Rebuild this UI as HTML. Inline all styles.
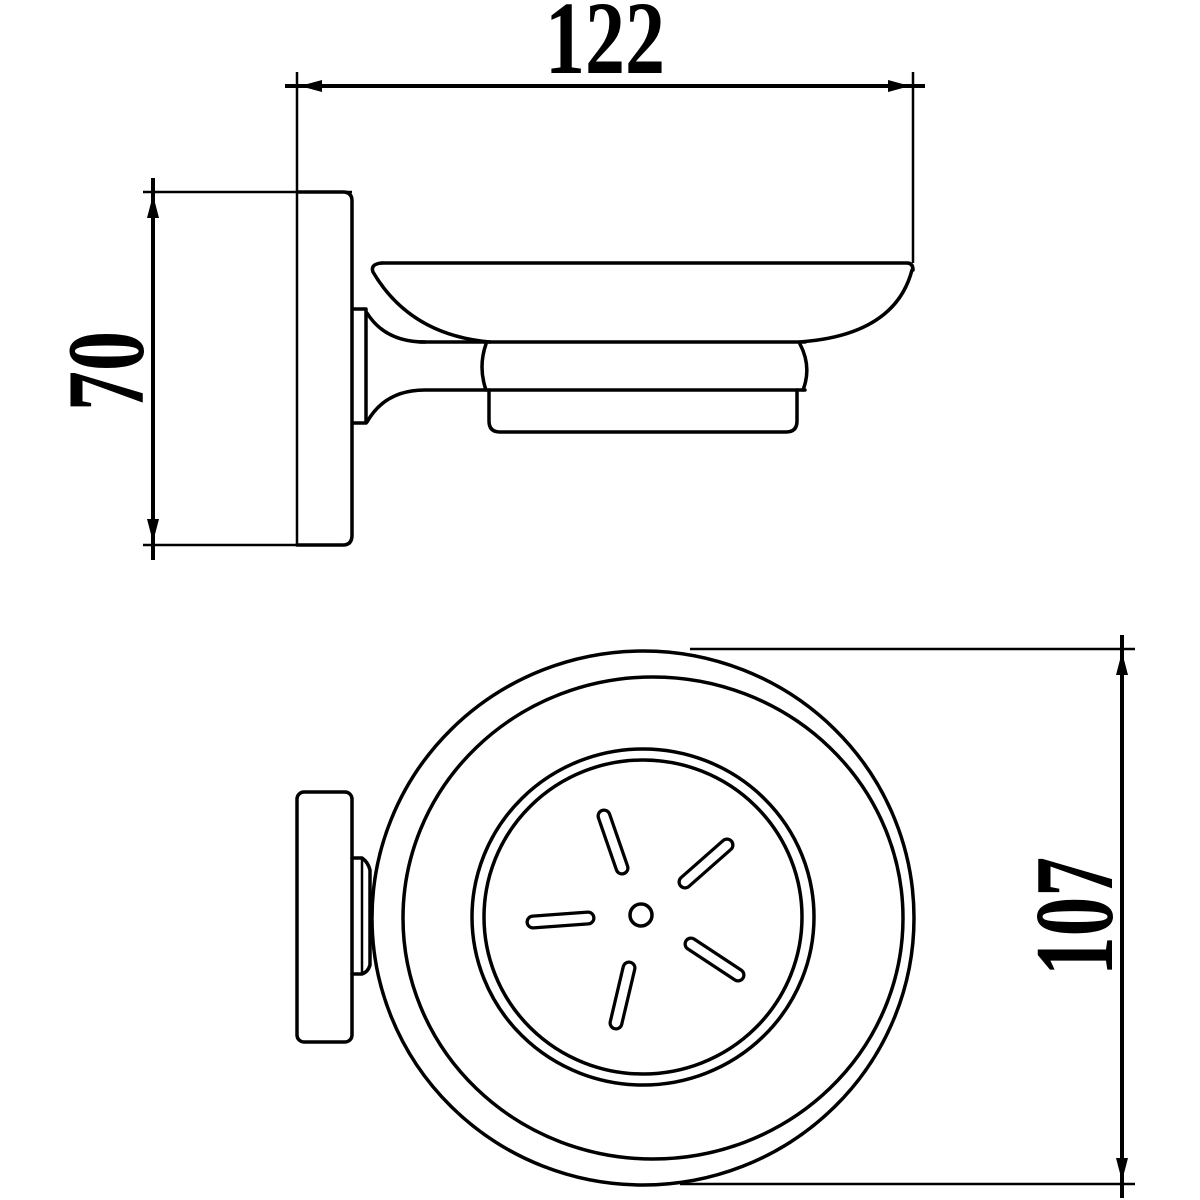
<!DOCTYPE html>
<html><head><meta charset="utf-8"><style>html,body{margin:0;padding:0;background:#fff}svg{display:block}</style></head>
<body>
<svg width="1200" height="1200" viewBox="0 0 1200 1200" xmlns="http://www.w3.org/2000/svg">
<g fill="none" stroke="#000" stroke-width="3.5" stroke-linecap="round" stroke-linejoin="round">
<!-- TOP VIEW -->
<!-- wall plate -->
<path d="M297 192 H343 Q352 192 352 201 V535 Q352 545 343 545 H297"/>
<!-- pin -->
<path d="M353 309 H366 V423 H353"/>
<!-- dish -->
<path d="M382 263 H907 Q913 263 913 270"/>
<path d="M382 263 Q370 264 373 272 Q410 335 490 342"/>
<path d="M912 270 Q895 335 800 342"/>
<path d="M420 342 H805"/>
<!-- neck -->
<path d="M367 313 Q385 342 425 342"/>
<path d="M367 422 Q385 390 425 390 H805"/>
<!-- holder sides -->
<path d="M486 344 Q478 367 486 390"/>
<path d="M800 344 Q812 367 803 390"/>
<!-- tray -->
<path d="M489 390 V421 Q489 432 500 432 H786 Q797 432 797 421 V390"/>
<!-- FRONT VIEW -->
<rect x="297" y="792" width="55" height="250" rx="7"/>
<path d="M352 858 H362 Q368 862 370 870 V965 Q368 972 362 974 H352"/>
<path d="M362 860 V972" stroke-width="2.5"/>
<ellipse cx="643" cy="918" rx="271" ry="267"/>
<ellipse cx="653" cy="918" rx="250" ry="241"/>
<ellipse cx="643" cy="917" rx="171" ry="168"/>
<ellipse cx="643" cy="917" rx="159" ry="157"/>
<circle cx="641" cy="915" r="11"/>
</g>
<!-- slots -->
<g stroke="#000" stroke-width="15" stroke-linecap="round" fill="none">
<line x1="604" y1="816" x2="622" y2="868"/>
<line x1="727" y1="845" x2="685" y2="882"/>
<line x1="533" y1="922" x2="588" y2="918"/>
<line x1="691" y1="944" x2="738" y2="975"/>
<line x1="629" y1="968" x2="616" y2="1023"/>
</g>
<g stroke="#fff" stroke-width="8.5" stroke-linecap="round" fill="none">
<line x1="604" y1="816" x2="622" y2="868"/>
<line x1="727" y1="845" x2="685" y2="882"/>
<line x1="533" y1="922" x2="588" y2="918"/>
<line x1="691" y1="944" x2="738" y2="975"/>
<line x1="629" y1="968" x2="616" y2="1023"/>
</g>
<!-- DIMENSIONS -->
<g stroke="#000" stroke-width="2.5" fill="none">
<line x1="297" y1="72" x2="297" y2="545"/>
<line x1="913" y1="72" x2="913" y2="263"/>
<line x1="285" y1="86" x2="925" y2="86" stroke-width="4"/>
<line x1="143" y1="192" x2="352" y2="192"/>
<line x1="143" y1="545" x2="297" y2="545"/>
<line x1="153" y1="178" x2="153" y2="560" stroke-width="4"/>
<line x1="690" y1="649" x2="1135" y2="649"/>
<line x1="680" y1="1184" x2="1135" y2="1184"/>
<line x1="1122" y1="635" x2="1122" y2="1198" stroke-width="4"/>
</g>
<g fill="#000">
<polygon points="300,86 322,80 322,92"/>
<polygon points="910,86 888,80 888,92"/>
<polygon points="153,195 147,218 159,218"/>
<polygon points="153,542 147,519 159,519"/>
<polygon points="1122,652 1116,675 1128,675"/>
<polygon points="1122,1181 1116,1158 1128,1158"/>
</g>
<g font-family="'Liberation Serif', serif" font-weight="bold" fill="#000">
<text x="545" y="73" font-size="104" textLength="120" lengthAdjust="spacingAndGlyphs">122</text>
<text transform="translate(143,411) rotate(-90)" font-size="110" textLength="80" lengthAdjust="spacingAndGlyphs">70</text>
<text transform="translate(1112,976) rotate(-90)" font-size="112" textLength="119" lengthAdjust="spacingAndGlyphs">107</text>
</g>
</svg>
</body></html>
